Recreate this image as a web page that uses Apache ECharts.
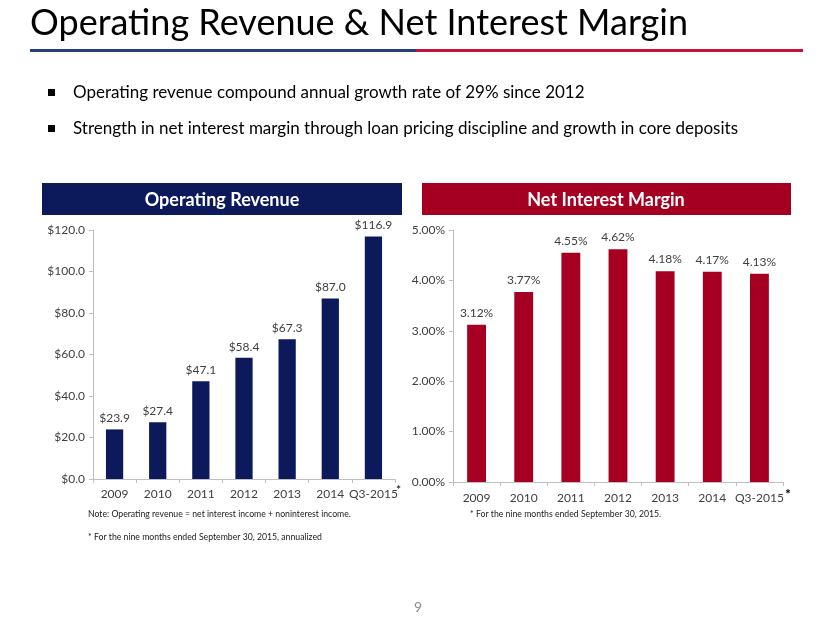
<!DOCTYPE html>
<html><head><meta charset="utf-8">
<script src="https://cdn.jsdelivr.net/npm/echarts@6/dist/echarts.min.js"></script>
<style>html,body{margin:0;padding:0;background:#fff}#c{width:830px;height:623px}</style>
</head><body><div id="c"></div>
<script>
const categories = ['2009','2010','2011','2012','2013','2014','Q3-2015'];
const revenueValues = [23.9, 27.4, 47.1, 58.4, 67.3, 87.0, 116.9];
const nimValues = [3.12, 3.77, 4.55, 4.62, 4.18, 4.17, 4.13];
const revenueTicks = [0, 20, 40, 60, 80, 100, 120];
const nimTicks = [0, 1, 2, 3, 4, 5];

const FONT = 'Lato';
const NAVY = '#0c1a5b';
const RED = '#a50021';
const chart = echarts.init(document.getElementById('c'));

const axisLine = {show:true, lineStyle:{color:'#bfbfbf', width:1}};
const labelStyle = {color:'#404040', fontFamily:FONT, fontSize:12};

chart.setOption({
  animation:false,
  grid:[
    {left:93, top:230, width:302, height:249},
    {left:453, top:230, width:330, height:252}
  ],
  xAxis:[
    {gridIndex:0, type:'category', data:categories, axisLine, axisTick:{show:true, length:4, lineStyle:{color:'#bfbfbf'}}, axisLabel:{...labelStyle, margin:9, interval:0}},
    {gridIndex:1, type:'category', data:categories, axisLine, axisTick:{show:true, length:4, lineStyle:{color:'#bfbfbf'}}, axisLabel:{...labelStyle, margin:10, interval:0}}
  ],
  yAxis:[
    {gridIndex:0, type:'value', min:revenueTicks[0], max:revenueTicks[revenueTicks.length-1], interval:20, axisLine, axisTick:{show:true, length:4, lineStyle:{color:'#bfbfbf'}}, splitLine:{show:false}, axisLabel:{...labelStyle, margin:8, formatter:v=>'$'+v.toFixed(1)}},
    {gridIndex:1, type:'value', min:nimTicks[0], max:nimTicks[nimTicks.length-1], interval:1, axisLine, axisTick:{show:true, length:4, lineStyle:{color:'#bfbfbf'}}, splitLine:{show:false}, axisLabel:{...labelStyle, margin:8, formatter:v=>v.toFixed(2)+'%'}}
  ],
  series:[
    {type:'bar', xAxisIndex:0, yAxisIndex:0, data:revenueValues, barWidth:'40%', itemStyle:{color:NAVY},
     label:{show:true, position:'top', distance:5, ...labelStyle, formatter:p=>'$'+p.value.toFixed(1)}},
    {type:'bar', xAxisIndex:1, yAxisIndex:1, data:nimValues, barWidth:'40%', itemStyle:{color:RED},
     label:{show:true, position:'top', distance:6, ...labelStyle, formatter:p=>p.value.toFixed(2)+'%'}}
  ],
  graphic:[
    {type:'text', left:30, top:5, style:{text:'Operating Revenue & Net Interest Margin', font:'36px '+FONT, fill:'#000'}},
    {type:'rect', shape:{x:30, y:49, width:386, height:3}, style:{fill:'#24407f'}},
    {type:'rect', shape:{x:416, y:49, width:387, height:3}, style:{fill:'#c0123c'}},
    {type:'rect', shape:{x:48, y:89, width:7, height:7}, style:{fill:'#000'}},
    {type:'rect', shape:{x:48, y:125, width:7, height:7}, style:{fill:'#000'}},
    {type:'text', x:73, y:93, style:{text:'Operating revenue compound annual growth rate of 29% since 2012', font:'17px '+FONT, fill:'#000', textVerticalAlign:'middle'}},
    {type:'text', x:73, y:129, style:{text:'Strength in net interest margin through loan pricing discipline and growth in core deposits', font:'17px '+FONT, fill:'#000', textVerticalAlign:'middle'}},
    {type:'rect', shape:{x:42, y:183, width:360, height:32}, style:{fill:NAVY}},
    {type:'rect', shape:{x:422, y:183, width:369, height:32}, style:{fill:RED}},
    {type:'text', x:222, y:200, style:{text:'Operating Revenue', font:'bold 18px '+FONT, fill:'#fff', textAlign:'center', textVerticalAlign:'middle'}},
    {type:'text', x:606, y:200, style:{text:'Net Interest Margin', font:'bold 18px '+FONT, fill:'#fff', textAlign:'center', textVerticalAlign:'middle'}},
    {type:'text', x:396, y:490, style:{text:'*', font:'12px '+FONT, fill:'#000', textVerticalAlign:'middle'}},
    {type:'text', x:785, y:494, style:{text:'*', font:'bold 14px '+FONT, fill:'#000', textVerticalAlign:'middle'}},
    {type:'text', x:88, y:514, style:{text:'Note: Operating revenue = net interest income + noninterest income.', font:'8.7px '+FONT, fill:'#222', textVerticalAlign:'middle'}},
    {type:'text', x:88, y:537, style:{text:'* For the nine months ended September 30, 2015, annualized', font:'8.7px '+FONT, fill:'#222', textVerticalAlign:'middle'}},
    {type:'text', x:470, y:514, style:{text:'* For the nine months ended September 30, 2015.', font:'8.7px '+FONT, fill:'#222', textVerticalAlign:'middle'}},
    {type:'text', x:418, y:607, style:{text:'9', font:'14px '+FONT, fill:'#8c8c8c', textAlign:'center', textVerticalAlign:'middle'}}
  ]
});
</script></body></html>
